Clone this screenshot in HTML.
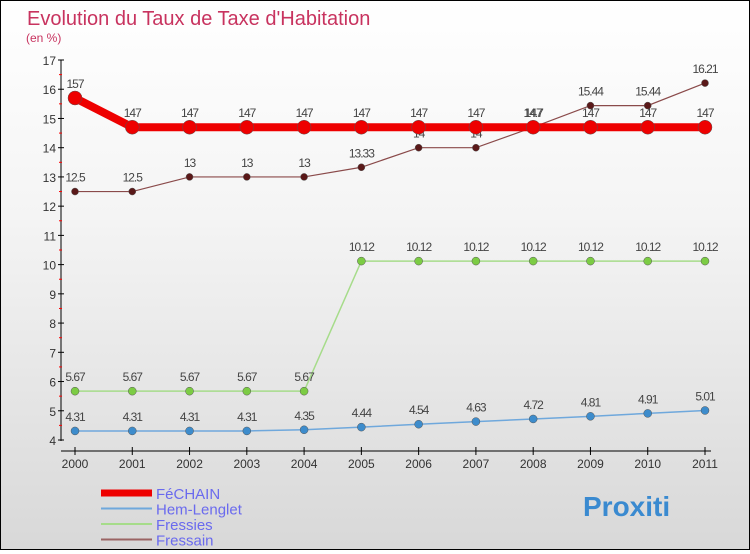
<!DOCTYPE html>
<html><head><meta charset="utf-8"><style>
body{margin:0}
#c{width:748px;height:548px;border:1px solid #000;background:linear-gradient(#fff,#f4f4f4 40%,#d8d8d8);position:relative;font-family:"Liberation Sans",sans-serif}
</style></head><body>
<div id="c">
<svg width="748" height="548" id="s">
<text x="26" y="24" font-size="20" fill="#c8335f">Evolution du Taux de Taxe d'Habitation</text>
<text x="25" y="41" font-size="12" fill="#c8335f">(en %)</text>
<g id="g"></g>
</svg>
</div>
<script>
const years=[2000,2001,2002,2003,2004,2005,2006,2007,2008,2009,2010,2011];
const fechain=[15.7,14.7,14.7,14.7,14.7,14.7,14.7,14.7,14.7,14.7,14.7,14.7];
const hem=[4.31,4.31,4.31,4.31,4.35,4.44,4.54,4.63,4.72,4.81,4.91,5.01];
const fressies=[5.67,5.67,5.67,5.67,5.67,10.12,10.12,10.12,10.12,10.12,10.12,10.12];
const fressain=[12.5,12.5,13,13,13,13.33,14,14,14.7,15.44,15.44,16.21];
const yTicks=[4,5,6,7,8,9,10,11,12,13,14,15,16,17];
const fmt=v=>String(v).replace('.','');
const fmt2=v=>String(v);
const x=i=>74+i*(630/11);
const y=v=>439-(v-4)*(380/13);
const g=document.getElementById('g');
const NS='http://www.w3.org/2000/svg';
function mk(t,a,p){const e=document.createElementNS(NS,t);for(const k in a)e.setAttribute(k,a[k]);(p||g).appendChild(e);return e;}
let e=mk('line',{x1:60,y1:59,x2:60,y2:440,stroke:'#000'});


e=mk('line',{x1:60,y1:450,x2:710,y2:450,stroke:'#000'});


yTicks.forEach(t=>{
 mk('line',{x1:57,y1:y(t),x2:63,y2:y(t),stroke:'#000'});
 if(t<17)mk('line',{x1:58,y1:y(t+0.5),x2:61,y2:y(t+0.5),stroke:'red'});
 const l=mk('text',{x:55,y:y(t)+5,'font-size':12,fill:'#333','text-anchor':'end'});l.textContent=t;
 
 
});
years.forEach((yr,i)=>{
 mk('line',{x1:x(i),y1:446,x2:x(i),y2:454,stroke:'#000'});
 const l=mk('text',{x:x(i),y:467,'font-size':12,fill:'#333','text-anchor':'middle'});l.textContent=yr;
 
 
});
function series(d,col,dot,w,r,name,f){
 const pl=mk('polyline',{points:d.map((v,i)=>x(i)+','+y(v)).join(' '),fill:'none',stroke:col,'stroke-width':w});
 
 
 d.forEach((v,i)=>{
  const c=mk('circle',{cx:x(i),cy:y(v),r:r,fill:dot,stroke:'#555','stroke-width':0.5});
  
  
  const t=mk('text',{x:x(i),y:y(v)-10,'font-size':12,fill:'#444','text-anchor':'middle','letter-spacing':'-1'});t.textContent=f(v);
  
  
 });
}
series(hem,'#6fa8dc','#3d8ccc',1.5,4,'hem-lenglet',fmt2);
series(fressies,'#a6dc8a','#7ccc44',1.5,4,'fressies',fmt2);
series(fressain,'#8a4a4a','#5a1818',1.2,3.5,'fressain',fmt2);
series(fechain,'#ee0000','#ee0000',8,7,'fechain',fmt);
const leg=[['FéCHAIN','#ee0000',7],['Hem-Lenglet','#6fa8dc',2],['Fressies','#a6dc8a',2],['Fressain','#9a6464',2]];
leg.forEach((l,i)=>{
 const yy=492+i*15.5;
 const ln=mk('line',{x1:100,y1:yy,x2:151,y2:yy,stroke:l[1],'stroke-width':l[2]});
 
 
 const t=mk('text',{x:155,y:yy+6,'font-size':15,fill:'#6a6aee'});t.textContent=l[0];
 
 
});
const p=mk('text',{x:582,y:515,'font-size':28,'font-weight':'bold',fill:'#3a8ad0'});p.textContent='Proxiti';


</script>
</body></html>
